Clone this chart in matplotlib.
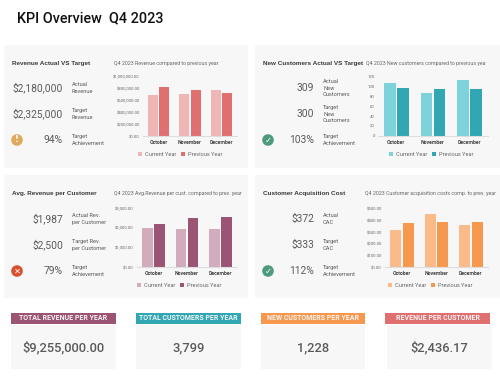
import matplotlib
matplotlib.use('Agg')
import matplotlib.pyplot as plt
from matplotlib.patches import Rectangle, Circle

W, H = 500, 379

months = ['October', 'November', 'December']
legend_labels = ['Current Year', 'Previous Year']

revenue_cur = [690000, 710000, 770000]
revenue_prev = [820000, 770000, 720000]
revenue_ticks = [0, 200000, 400000, 600000, 800000, 1000000]
revenue_ticklabels = ['$0.00', '$200,000.00', '$400,000.00', '$600,000.00', '$800,000.00', '$1,000,000.00']

customers_cur = [108, 87, 113]
customers_prev = [97, 96, 94]
customers_ticks = [0, 20, 40, 60, 80, 100, 120]
customers_ticklabels = ['0', '20', '40', '60', '80', '100', '120']

arpc_cur = [2000, 1950, 1950]
arpc_prev = [2170, 2500, 2530]
arpc_ticks = [0, 1000, 2000, 3000]
arpc_ticklabels = ['$0.00', '$1,000.00', '$2,000.00', '$3,000.00']

cac_cur = [315, 450, 355]
cac_prev = [375, 380, 385]
cac_ticks = [0, 100, 200, 300, 400, 500]
cac_ticklabels = ['$0.00', '$100.00', '$200.00', '$300.00', '$400.00', '$500.00']

card_titles = ['TOTAL REVENUE PER YEAR', 'TOTAL CUSTOMERS PER YEAR', 'NEW CUSTOMERS PER YEAR', 'REVENUE PER CUSTOMER']
card_values = ['$9,255,000.00', '3,799', '1,228', '$2,436.17']
card_colors = ['#9c5474', '#30a7b3', '#f6984e', '#e06f6f']

TEXT = '#5a5a5a'
SANS = 'Roboto'

fig = plt.figure(figsize=(W / 100, H / 100), dpi=100, facecolor='white')
bg = fig.add_axes([0, 0, 1, 1])
bg.set_xlim(0, W)
bg.set_ylim(H, 0)
bg.axis('off')

bg.text(17, 18, 'KPI Overview  Q4 2023', fontsize=10.4, family=SANS, weight='medium',
        color='#111111', va='center')


def panel(x0, y0, x1, y1, title, subtitle, sub_x, rows, icon, icon_color, icon_y,
          ax_box, legend_x, cur, prev, ticks, ticklabels, c_cur, c_prev):
    bg.add_patch(Rectangle((x0, y0), x1 - x0, y1 - y0, color='#f7f7f7', lw=0))
    bg.text(x0 + 8, y0 + 18, title, fontsize=4.55, family='Liberation Sans', weight='bold',
            color='#3a3a3a', va='center')
    bg.text(sub_x, y0 + 18, subtitle, fontsize=3.8, family=SANS, color='#666666', va='center')

    # left side figures
    for value, label, y in rows:
        bg.text(x0 + 59, y, value, fontsize=7.4, family=SANS, color=TEXT, ha='right', va='center')
        bg.text(x0 + 68, y, label, fontsize=4.1, family=SANS, color=TEXT, va='center', linespacing=1.35)

    bg.add_patch(Circle((x0 + 13, icon_y), 5.8, color=icon_color, lw=0))
    bg.text(x0 + 13, icon_y, icon, fontsize=6, family='DejaVu Sans', weight='bold',
            color='white', ha='center', va='center')

    # bar chart
    l, t, r, b = ax_box
    ax = fig.add_axes([l / W, 1 - b / H, (r - l) / W, (b - t) / H])
    ax.patch.set_alpha(0)
    xs = range(len(months))
    bars1 = ax.bar([x - 0.18 for x in xs], cur, width=0.32, color=c_cur)
    bars2 = ax.bar([x + 0.18 for x in xs], prev, width=0.32, color=c_prev)
    ax.set_xlim(-0.5, 2.5)
    ax.set_ylim(0, ticks[-1])
    ax.set_yticks(ticks, ticklabels)
    ax.set_xticks(list(xs), months)
    ax.tick_params(axis='y', length=0, pad=2.4)
    ax.tick_params(axis='x', length=0, pad=2.8)
    for lab in ax.get_yticklabels():
        lab.set(fontsize=2.95, family=SANS, color='#666666')
    for lab in ax.get_xticklabels():
        lab.set(fontsize=3.7, family=SANS, color='#444444', weight='bold')
    for s in ['top', 'left', 'right']:
        ax.spines[s].set_visible(False)
    ax.spines['bottom'].set_color('#dddddd')
    ax.spines['bottom'].set_linewidth(0.8)
    fig.legend([bars1, bars2], legend_labels, loc='center',
               bbox_to_anchor=(legend_x / W, 1 - (b + 18.5) / H),
               ncol=2, frameon=False, handlelength=0.7, handleheight=0.7, columnspacing=0.9,
               handletextpad=0.45, borderpad=0,
               prop={'family': SANS, 'size': 4.1}, labelcolor='#666666')


panel(4, 45, 248, 168, 'Revenue Actual VS Target', 'Q4 2023 Revenue compared to previous year', 114,
      [('$2,180,000', 'Actual\nRevenue', 88), ('$2,325,000', 'Target\nRevenue', 114),
       ('94%', 'Target\nAchievement', 140)],
      '!', '#dfa95c', 140, (143, 76.7, 237, 135.7), 180,
      revenue_cur, revenue_prev, revenue_ticks, revenue_ticklabels, '#f0b5b5', '#e06f6f')

panel(255, 45, 500, 168, 'New Customers Actual VS Target', 'Q4 2023 New customers compared to previous yea', 366,
      [('309', 'Actual\nNew\nCustomers', 88), ('300', 'Target\nNew\nCustomers', 114),
       ('103%', 'Target\nAchievement', 140)],
      '\u2713', '#4d9a7c', 140, (378, 76.7, 488, 135.7), 431,
      customers_cur, customers_prev, customers_ticks, customers_ticklabels, '#7dd2dc', '#30a7b3')

panel(4, 175, 248, 298, 'Avg. Revenue per Customer', 'Q4 2023 Avg.Revenue per cust. compared to prev. year', 114,
      [('$1,987', 'Actual Rev.\nper Customer', 219), ('$2,500', 'Target Rev.\nper Customer', 245),
       ('79%', 'Target\nAchievement', 271)],
      '\u2715', '#d9502e', 271, (137, 208, 237, 267.3), 179,
      arpc_cur, arpc_prev, arpc_ticks, arpc_ticklabels, '#d2abbc', '#9c5474')

panel(255, 175, 500, 298, 'Customer Acquisition Cost', 'Q4 2023 Customer acquisition costs comp. to prev. year', 365,
      [('$372', 'Actual\nCAC', 219), ('$333', 'Target\nCAC', 245),
       ('112%', 'Target\nAchievement', 271)],
      '\u2713', '#4d9a7c', 271, (385, 208, 488, 267.3), 430,
      cac_cur, cac_prev, cac_ticks, cac_ticklabels, '#fbba8a', '#f6984e')

# bottom cards
header_x = [(11, 116), (136, 241), (261, 365), (385, 490)]
body_x = [(11, 116), (136, 241), (261, 365), (387, 492)]
for (x0, x1), (bx0, bx1), title, value, color in zip(header_x, body_x, card_titles, card_values, card_colors):
    bg.add_patch(Rectangle((bx0, 325), bx1 - bx0, 44, color='#f7f7f7', lw=0))
    bg.add_patch(Rectangle((x0, 313), x1 - x0, 11, color=color, lw=0))
    bg.text((x0 + x1) / 2, 318.5, title, fontsize=5.0, family=SANS, weight='bold',
            color='#f5f5f5', ha='center', va='center')
    bg.text((bx0 + bx1) / 2, 348, value, fontsize=9.3, family=SANS, weight='medium',
            color=TEXT, ha='center', va='center')

fig.savefig('out.png', dpi=100)
